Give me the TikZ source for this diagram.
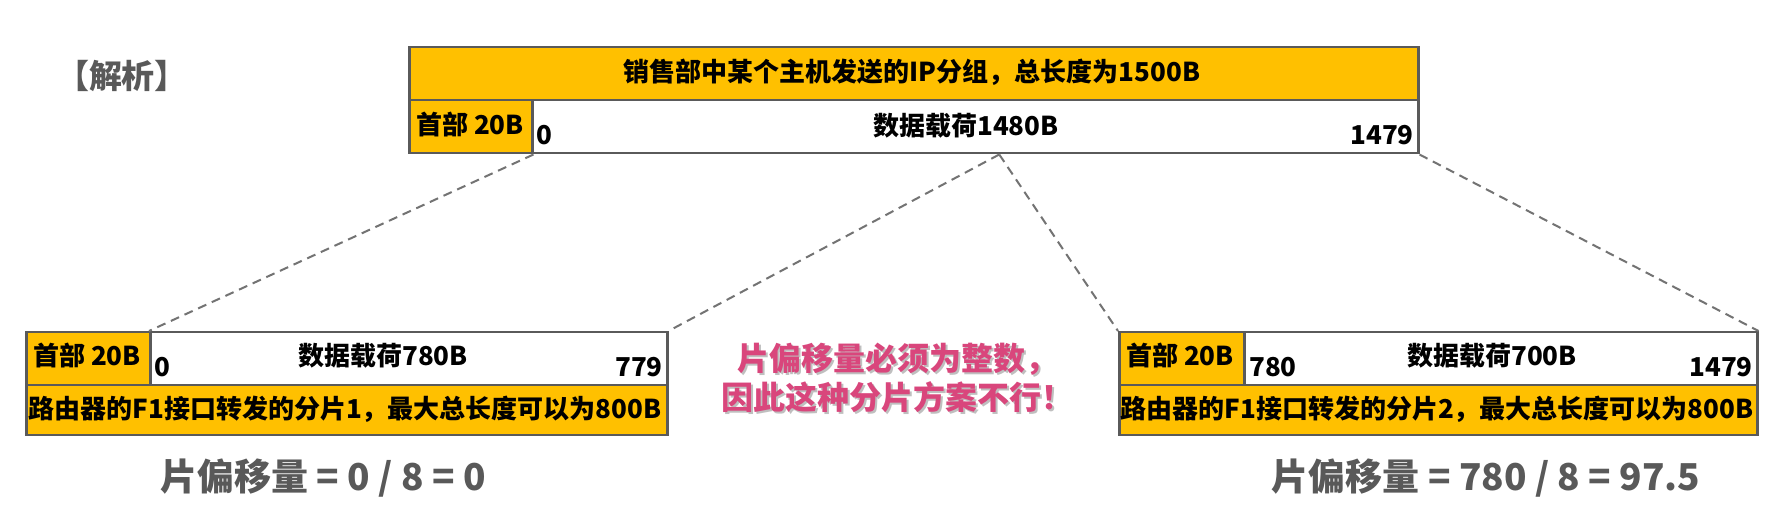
\documentclass[tikz,border=0pt]{standalone}
\usepackage{fontspec}
\newfontfamily\cjk{Noto Sans CJK SC}
\usetikzlibrary{calc}
\definecolor{boxyellow}{HTML}{FFC000}
\definecolor{edge}{HTML}{5A5A5A}
\definecolor{pinktxt}{HTML}{D9467C}
\definecolor{graytxt}{HTML}{595959}
\begin{document}
\begin{tikzpicture}[x=1pt,y=-1pt,
  cell/.style={draw=edge,line width=2.5pt,inner sep=0pt,anchor=north west},
  ycell/.style={cell,fill=boxyellow},
  wcell/.style={cell,fill=white},
  txt/.style={font=\cjk\bfseries\fontsize{26}{30}\selectfont,text=black,inner sep=0pt},
  dashline/.style={draw=edge!85,line width=2pt,dash pattern=on 9pt off 6pt},
  formula/.style={font=\cjk\bfseries\fontsize{37}{40}\selectfont,text=graytxt,inner sep=0pt},
  warn/.style={font=\cjk\bfseries\fontsize{32}{39}\selectfont,align=center,inner sep=0pt},
  title/.style={font=\cjk\bfseries\fontsize{33}{36}\selectfont,text=graytxt,inner sep=0pt},
  ]
\useasboundingbox[fill=white] (0,0) rectangle (1765,518);

\node[title] (jiexi) at (122,76) {【解析】};

% top packet
\node[ycell,minimum width=1009pt,minimum height=53pt] (topbar) at (408,46) {};
\node[ycell,minimum width=123pt,minimum height=53pt] (tophdr) at (408,99) {};
\node[wcell,minimum width=886pt,minimum height=53pt] (topdata) at (531,99) {};
\node[txt] (toptitle) at (912,72) {销售部中某个主机发送的IP分组，总长度为1500B};
\node[txt] (tophdrtxt) at (470,125) {首部 20B};
\node[txt] (topdatatxt) at (966,126) {数据载荷1480B};
\node[txt,anchor=south west] (topstart) at (536,145) {0};
\node[txt,anchor=south east] (topend) at (1414,145) {1479};
\coordinate (split) at ($(topdata.south west)!780/1480!(topdata.south east)$);

% left fragment
\node[ycell,minimum width=124pt,minimum height=53pt] (lhdr) at (25,331) {};
\node[wcell,minimum width=517pt,minimum height=53pt] (ldata) at (149,331) {};
\node[ycell,minimum width=641pt,minimum height=50pt] (lbar) at (25,384) {};
\node[txt] (lhdrtxt) at (87,356) {首部 20B};
\node[txt] (ldatatxt) at (383,356) {数据载荷780B};
\node[txt,anchor=south west] (lstart) at (154,377) {0};
\node[txt,anchor=south east] (lend) at (663,377) {779};
\node[txt] (lbartxt) at (345,409) {路由器的F1接口转发的分片1，最大总长度可以为800B};
\node[formula] (lform) at (323,478) {片偏移量 = 0 / 8 = 0};

% right fragment
\node[ycell,minimum width=125pt,minimum height=53pt] (rhdr) at (1118,331) {};
\node[wcell,minimum width=513pt,minimum height=53pt] (rdata) at (1243,331) {};
\node[ycell,minimum width=638pt,minimum height=50pt] (rbar) at (1118,384) {};
\node[txt] (rhdrtxt) at (1180,356) {首部 20B};
\node[txt] (rdatatxt) at (1492,356) {数据载荷700B};
\node[txt,anchor=south west] (rstart) at (1249,377) {780};
\node[txt,anchor=south east] (rend) at (1753,377) {1479};
\node[txt] (rbartxt) at (1437,409) {路由器的F1接口转发的分片2，最大总长度可以为800B};
\node[formula] (rform) at (1486,478) {片偏移量 = 780 / 8 = 97.5};

% dashed connectors
\draw[dashline] (tophdr.south east) -- (ldata.north west);
\draw[dashline] (split) -- (ldata.north east);
\draw[dashline] (split) -- (rhdr.north west);
\draw[dashline] (topdata.south east) -- (rdata.north east);

% warning text
\node[warn,text=black!25] (warnshadow) at (899,380) {片偏移量必须为整数，\\因此这种分片方案不行！};
\node[warn,text=pinktxt] (warntxt) at (897,378) {片偏移量必须为整数，\\因此这种分片方案不行！};
\end{tikzpicture}
\end{document}
